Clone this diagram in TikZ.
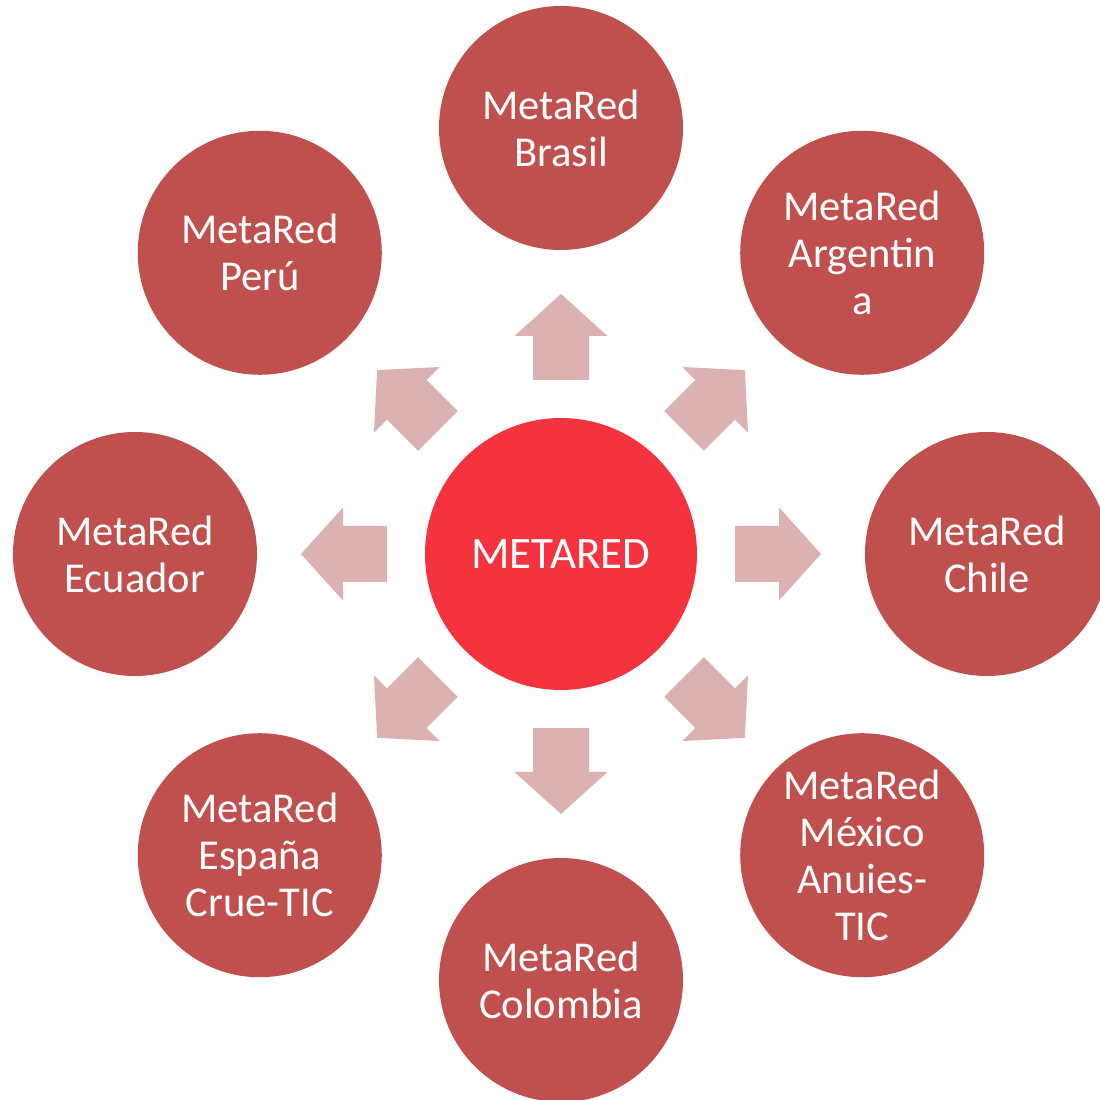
\documentclass[tikz,border=0pt]{standalone}
\usepackage{fontspec}
\setmainfont{Carlito}
\definecolor{hubred}{HTML}{F5333F}
\definecolor{nodered}{HTML}{C0504D}
\definecolor{arrowpink}{HTML}{DBB1B1}
\tikzset{
  hub/.style={circle, fill=hubred, text=white, minimum size=2.72cm, inner sep=0pt,
    align=center, font=\fontsize{12.8}{14}\selectfont},
  member/.style={circle, fill=nodered, text=white, minimum size=2.44cm, inner sep=0pt,
    align=center, font=\fontsize{12.1}{13.4}\selectfont},
  blockarrow/.style={fill=arrowpink}
}
\begin{document}
\begin{tikzpicture}
\useasboundingbox (-5.61,-5.46) rectangle (5.39,5.54);
\clip (-5.61,-5.46) rectangle (5.39,5.54);

% Central node
\node[hub] (metared) at (0,0) {METARED};

% Block arrows pointing outwards
\foreach \angle in {0,45,...,315} {
  \fill[blockarrow, rotate=\angle] (1.74,-0.28) -- (2.18,-0.28) -- (2.18,-0.465)
    -- (2.60,0) -- (2.18,0.465) -- (2.18,0.28) -- (1.74,0.28) -- cycle;
}

% Member networks
\node[member] (brasil)    at (90:4.26)  {MetaRed\\Brasil};
\node[member] (argentina) at (45:4.26)  {MetaRed\\Argentin\\a};
\node[member] (chile)     at (0:4.26)   {MetaRed\\Chile};
\node[member] (mexico)    at (-45:4.26) {MetaRed\\México\\Anuies-\\TIC};
\node[member] (colombia)  at (-90:4.26) {MetaRed\\Colombia};
\node[member] (espana)    at (225:4.26) {MetaRed\\España\\Crue-TIC};
\node[member] (ecuador)   at (180:4.26) {MetaRed\\Ecuador};
\node[member] (peru)      at (135:4.26) {MetaRed\\Perú};
\end{tikzpicture}
\end{document}
